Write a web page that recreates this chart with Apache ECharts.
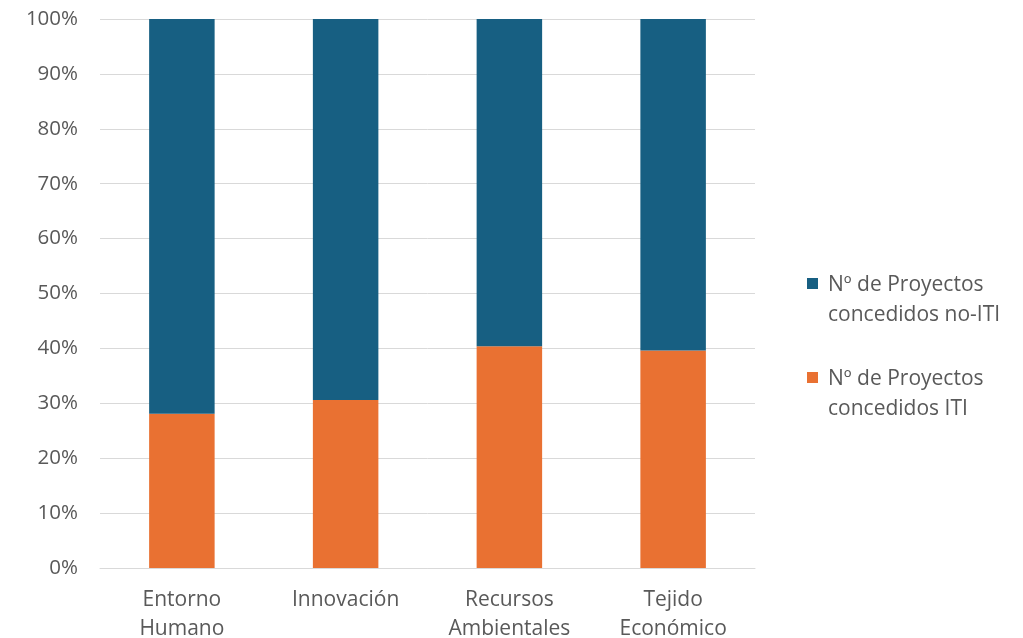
<!DOCTYPE html>
<html>
<head>
<meta charset="utf-8">
<script src="https://cdn.jsdelivr.net/npm/echarts@6/dist/echarts.min.js"></script>
<style>
html,body{margin:0;padding:0;background:#fff;}
#chart{width:1023px;height:638px;}
</style>
</head>
<body>
<div id="chart"></div>
<script>
var categories = ['Entorno\nHumano', 'Innovación', 'Recursos\nAmbientales', 'Tejido\nEconómico'];
var seriesNames = ['Nº de Proyectos concedidos ITI', 'Nº de Proyectos concedidos no-ITI'];
var itiValues = [28.1, 30.6, 40.4, 39.6];
var noItiValues = [71.9, 69.4, 59.6, 60.4];
var yTicks = [0, 10, 20, 30, 40, 50, 60, 70, 80, 90, 100];

var FONT = '"Open Sans", sans-serif';
var chart = echarts.init(document.getElementById('chart'), null, {renderer: 'canvas'});
var legendIcon = 'path://M0,0h10v10h-10z M0,40h0.01';
chart.setOption({
  animation: false,
  backgroundColor: '#ffffff',
  grid: {left: 100, right: 268, top: 19, bottom: 70, containLabel: false, outerBoundsMode: 'none'},
  legend: {
    orient: 'vertical',
    left: 807,
    top: 270,
    padding: 0,
    itemGap: 34,
    itemWidth: 11,
    itemHeight: 44,
    data: [
      {name: seriesNames[1], icon: legendIcon},
      {name: seriesNames[0], icon: legendIcon}
    ],
    formatter: function (name) {
      return name.replace(' concedidos', '\nconcedidos');
    },
    textStyle: {fontFamily: FONT, fontSize: 21, color: '#595959', lineHeight: 30, padding: [0, 0, 0, 5]}
  },
  xAxis: {
    type: 'category',
    data: categories,
    axisLine: {show: true, lineStyle: {color: '#d9d9d9', width: 1}},
    axisTick: {show: false},
    axisLabel: {fontFamily: FONT, fontSize: 21, color: '#595959', lineHeight: 29, margin: 18, interval: 0}
  },
  yAxis: {
    type: 'value',
    min: yTicks[0],
    max: yTicks[yTicks.length - 1],
    interval: yTicks[1] - yTicks[0],
    axisLine: {show: false},
    axisTick: {show: false},
    splitLine: {lineStyle: {color: '#d9d9d9', width: 1}},
    axisLabel: {fontFamily: FONT, fontSize: 20.5, color: '#595959', margin: 22, formatter: '{value}%'}
  },
  series: [
    {
      name: seriesNames[0],
      type: 'bar',
      stack: 'total',
      data: itiValues,
      barWidth: '40%',
      itemStyle: {color: '#e97132'}
    },
    {
      name: seriesNames[1],
      type: 'bar',
      stack: 'total',
      data: noItiValues,
      barWidth: '40%',
      itemStyle: {color: '#175f82'}
    }
  ]
});
</script>
</body>
</html>
